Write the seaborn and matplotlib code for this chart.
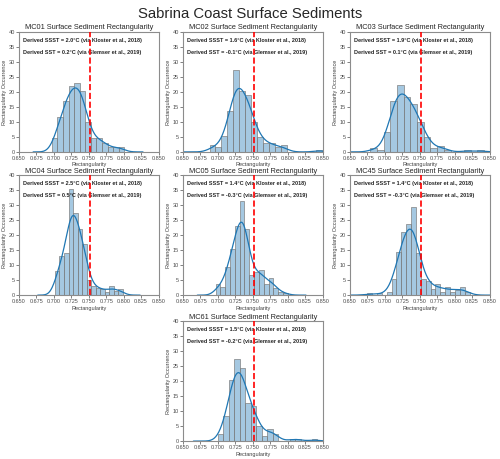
import numpy as np
import pandas as pd
import seaborn as sns
import matplotlib.pyplot as plt
from matplotlib.ticker import FormatStrFormatter

cores = ["MC01", "MC02", "MC03", "MC04", "MC05", "MC45", "MC61"]
ssst = [2.0, 1.6, 1.9, 2.5, 1.4, 1.4, 1.5]
sst = [0.2, -0.1, 0.1, 0.5, -0.3, -0.3, -0.2]
threshold = 0.752

# histogram bins (left edge of first bin, bin width)
bin_start = [0.697, 0.688, 0.679, 0.7015, 0.6967, 0.6745, 0.700]
bin_width = [0.008, 0.0085, 0.0096, 0.0065, 0.0069, 0.007, 0.0079]

mc01 = [4.5, 11.5, 17, 22, 23, 20.5, 10, 4.5, 4.5, 3, 1.5, 1.5, 1.5]
mc02 = [2.2, 1.5, 5.3, 13.5, 27.2, 20.5, 19, 10, 5, 3, 3, 1.5, 2.2, 0, 0, 0, 0, 0, 0.8]
mc03 = [1.2, 0.8, 6.5, 17, 22.3, 18.3, 16, 10, 5, 1.2, 2, 0.6, 0, 0, 0.6, 0, 0.6]
mc04 = [8, 13, 14, 35.5, 27.3, 22, 17, 5, 3, 2.5, 2, 1.2, 3, 1.5, 2]
mc05 = [3.8, 2.8, 9.5, 15.5, 23, 31.5, 22, 6.8, 7.8, 8.5, 3.8, 5.8, 2.5, 1.0, 0.8]
mc45 = [0.8, 0, 0.8, 0, 1, 5.5, 14.5, 21, 23.8, 29.3, 14, 5.5, 4.8, 2, 3.8, 1.2,
        2.8, 1.2, 1.8, 2.8, 1.0]
mc61 = [2.5, 8.5, 20.5, 27.3, 24.5, 12.8, 11.8, 5.2, 1.8, 4.2, 2.5, 0, 0, 0.8, 0.8,
        0, 0, 0.8]
heights = [mc01, mc02, mc03, mc04, mc05, mc45, mc61]

xticks = [0.650, 0.675, 0.700, 0.725, 0.750, 0.775, 0.800, 0.825, 0.850]
yticks = [0, 5, 10, 15, 20, 25, 30, 35, 40]

sns.set_style("ticks")
plt.rcParams["font.family"] = ["Liberation Sans", "DejaVu Sans"]
plt.rcParams["axes.edgecolor"] = "0.55"
plt.rcParams["axes.linewidth"] = 0.8

fig = plt.figure(figsize=(5, 4.59), dpi=100)
fig.suptitle("Sabrina Coast Surface Sediments", fontsize=10.7, y=0.985)

col_left = [0.038, 0.366, 0.70]
row_bottom = [0.669, 0.357, 0.039]
ax_w, ax_h = 0.279, 0.261
slots = [(0, 0), (0, 1), (0, 2), (1, 0), (1, 1), (1, 2), (2, 1)]

for i, core in enumerate(cores):
    r, c = slots[i]
    ax = fig.add_axes([col_left[c], row_bottom[r], ax_w, ax_h])
    n = len(heights[i])
    w = bin_width[i]
    df = pd.DataFrame({
        "rect": bin_start[i] + w * (np.arange(n) + 0.5),
        "occ": heights[i],
    })
    sns.histplot(data=df, x="rect", weights="occ", binwidth=w,
                 binrange=(bin_start[i], bin_start[i] + n * w), stat="count",
                 kde=True, kde_kws={"cut": 3, "bw_adjust": 0.55},
                 color="#1f77b4", alpha=0.4, edgecolor="0.5", linewidth=0.5,
                 line_kws={"linewidth": 0.9}, ax=ax)
    ax.axvline(threshold, color="red", linestyle="--", linewidth=1.2, zorder=5)
    ax.text(0.03, 0.933, f"Derived SSST = {ssst[i]:.1f}°C (via Kloster et al., 2018)",
            transform=ax.transAxes, fontsize=4.0, fontweight="bold", va="center")
    ax.text(0.03, 0.833, f"Derived SST = {sst[i]:.1f}°C (via Glemser et al., 2019)",
            transform=ax.transAxes, fontsize=4.0, fontweight="bold", va="center")
    ax.set_xlim(0.650, 0.850)
    ax.set_ylim(0, 40)
    ax.set_xticks(xticks)
    ax.set_yticks(yticks)
    ax.xaxis.set_major_formatter(FormatStrFormatter("%.3f"))
    ax.tick_params(labelsize=4, length=2, width=0.5, pad=1, colors="0.3")
    ax.set_title(f"{core} Surface Sediment Rectangularity", fontsize=5.3, pad=2)
    ax.set_xlabel("Rectangularity", fontsize=4, labelpad=1, color="0.25")
    ax.set_ylabel("Rectangularity Occurrence", fontsize=4, labelpad=1, color="0.25")

plt.savefig("out.png", dpi=100)
